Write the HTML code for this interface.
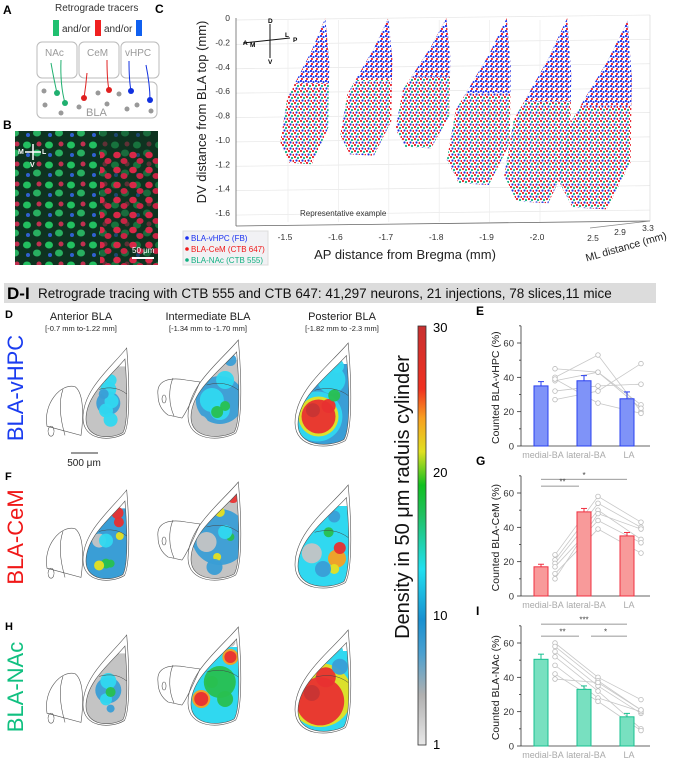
<!DOCTYPE html>
<html><head><meta charset="utf-8">
<style>
html,body{margin:0;padding:0;background:#fff;}
svg{display:block;font-family:"Liberation Sans",Arial,sans-serif;}
</style></head>
<body>
<svg id="fig" width="699" height="759" viewBox="0 0 699 759">
<defs>
  <pattern id="pMix" width="6" height="6" patternUnits="userSpaceOnUse">
    <circle cx="1" cy="1" r="1.1" fill="#e8202a"/><circle cx="4" cy="2" r="1.1" fill="#10b080"/>
    <circle cx="2.5" cy="4.5" r="1.1" fill="#2030e0"/><circle cx="5.5" cy="5" r="1.1" fill="#e8202a"/>
  </pattern>
  <pattern id="pBlue" width="5" height="5" patternUnits="userSpaceOnUse">
    <circle cx="1" cy="1" r="1.1" fill="#2030e8"/><circle cx="3.5" cy="2" r="1.1" fill="#2040f0"/>
    <circle cx="2" cy="4" r="1.1" fill="#e8202a"/>
  </pattern>
  <pattern id="pCells" width="22" height="20" patternUnits="userSpaceOnUse">
    <ellipse cx="5" cy="5" rx="4" ry="3.5" fill="#22c060"/><ellipse cx="15" cy="13" rx="4" ry="3.5" fill="#28b060"/>
    <circle cx="17" cy="4" r="2.5" fill="#c03050"/><circle cx="6" cy="15" r="2" fill="#3060d0"/>
  </pattern>
  <pattern id="pRed" width="16" height="15" patternUnits="userSpaceOnUse">
    <ellipse cx="5" cy="5" rx="3.8" ry="3.3" fill="#d82848"/><ellipse cx="12" cy="11" rx="3.5" ry="3" fill="#c82444"/>
  </pattern>
</defs>

<!-- Panel A -->
<g>
  <text x="3" y="14" font-size="12" font-weight="bold">A</text>
  <text x="55" y="11" font-size="10" fill="#333">Retrograde tracers</text>
  <rect x="53" y="20" width="6" height="16" fill="#20c070"/>
  <rect x="95" y="20" width="6" height="16" fill="#f02020"/>
  <rect x="136" y="20" width="6" height="16" fill="#1060f0"/>
  <text x="62" y="32" font-size="10" fill="#333">and/or</text>
  <text x="104" y="32" font-size="10" fill="#333">and/or</text>
  <rect x="37" y="42" width="40" height="36" rx="5" fill="none" stroke="#bbb"/>
  <rect x="79" y="42" width="40" height="36" rx="5" fill="none" stroke="#bbb"/>
  <rect x="121" y="42" width="38" height="36" rx="5" fill="none" stroke="#bbb"/>
  <text x="45" y="56" font-size="10" fill="#999">NAc</text>
  <text x="87" y="56" font-size="10" fill="#999">CeM</text>
  <text x="125" y="56" font-size="10" fill="#999">vHPC</text>
  <rect x="37" y="82" width="120" height="36" rx="5" fill="none" stroke="#bbb"/>
  <text x="86" y="116" font-size="11" fill="#999">BLA</text>
  <g fill="#999">
    <circle cx="44" cy="91" r="2.5"/><circle cx="45" cy="105" r="2.5"/><circle cx="61" cy="113" r="2.5"/>
    <circle cx="79" cy="107" r="2.5"/><circle cx="98" cy="93" r="2.5"/><circle cx="107" cy="104" r="2.5"/>
    <circle cx="119" cy="94" r="2.5"/><circle cx="127" cy="109" r="2.5"/><circle cx="137" cy="105" r="2.5"/><circle cx="151" cy="111" r="2.5"/>
  </g>
  <path d="M51 63 Q54 80 57 93 M61 60 Q60 85 65 103" stroke="#20b070" fill="none"/>
  <circle cx="57" cy="93" r="3" fill="#20b070"/><circle cx="65" cy="103" r="3" fill="#20b070"/>
  <path d="M87 73 Q86 85 84 98 M107 60 Q107 80 109 90" stroke="#e02020" fill="none"/>
  <circle cx="84" cy="98" r="3" fill="#e02020"/><circle cx="109" cy="90" r="3" fill="#e02020"/>
  <path d="M129 61 Q129 80 131 91 M146 65 Q150 85 150 100" stroke="#1030e0" fill="none"/>
  <circle cx="131" cy="91" r="3" fill="#1030e0"/><circle cx="150" cy="100" r="3" fill="#1030e0"/>
</g>

<!-- Panel B -->
<g>
  <text x="3" y="129" font-size="12" font-weight="bold">B</text>
  <rect x="15" y="131" width="143" height="134" fill="#0e3320"/>
  <rect x="15" y="131" width="143" height="134" fill="url(#pCells)"/>
  <rect x="100" y="131" width="58" height="134" fill="#0e3320" opacity="0.55"/>
  <rect x="100" y="150" width="58" height="115" fill="url(#pRed)"/>
  <path d="M33 144 V160 M25 152 H41" stroke="#fff" stroke-width="1.5"/>
  <text x="18" y="154" font-size="7" fill="#fff" font-weight="bold">M</text>
  <text x="42" y="154" font-size="7" fill="#fff" font-weight="bold">L</text>
  <text x="30" y="167" font-size="7" fill="#fff" font-weight="bold">V</text>
  <text x="132" y="253" font-size="8" fill="#fff">50 μm</text>
  <rect x="132" y="257" width="22" height="2" fill="#fff"/>
</g>

<!-- Panel C -->
<g id="panelC">
  <text x="155" y="13" font-size="12" font-weight="bold">C</text>
</g>

<!-- Header -->
<g>
  <rect x="4" y="283" width="652" height="20" fill="#dcdcdc"/>
  <text x="7" y="299" font-size="17" font-weight="bold">D-I</text>
  <text x="38" y="298" font-size="13.5" fill="#111">Retrograde tracing with CTB 555 and CTB 647: 41,297 neurons, 21 injections, 78 slices,11 mice</text>
</g>

<g id="heat">
  <text x="5" y="318" font-size="11" font-weight="bold">D</text>
  <text x="5" y="480" font-size="11" font-weight="bold">F</text>
  <text x="5" y="630" font-size="11" font-weight="bold">H</text>
  <text x="81" y="320" font-size="11" text-anchor="middle" fill="#222">Anterior BLA</text>
  <text x="81" y="331" font-size="7.5" text-anchor="middle" fill="#222">[-0.7 mm to-1.22 mm]</text>
  <text x="208" y="320" font-size="11" text-anchor="middle" fill="#222">Intermediate BLA</text>
  <text x="208" y="331" font-size="7.5" text-anchor="middle" fill="#222">[-1.34 mm to -1.70 mm]</text>
  <text x="342" y="320" font-size="11" text-anchor="middle" fill="#222">Posterior BLA</text>
  <text x="342" y="331" font-size="7.5" text-anchor="middle" fill="#222">[-1.82 mm to -2.3 mm]</text>
  <text transform="translate(23,388) rotate(-90)" font-size="22" fill="#1a3cf0" text-anchor="middle">BLA-vHPC</text>
  <text transform="translate(23,537) rotate(-90)" font-size="22" fill="#f01818" text-anchor="middle">BLA-CeM</text>
  <text transform="translate(23,687) rotate(-90)" font-size="22" fill="#10c080" text-anchor="middle">BLA-NAc</text>
  <line x1="71" y1="453" x2="98" y2="453" stroke="#333"/>
  <text x="84" y="466" font-size="10" text-anchor="middle" fill="#222">500 μm</text>
</g>

<g id="cbar">
  <defs>
    <linearGradient id="cg" x1="0" y1="1" x2="0" y2="0">
      <stop offset="0" stop-color="#e8e8e8"/><stop offset="0.12" stop-color="#b0b0b0"/>
      <stop offset="0.22" stop-color="#4aa0d0"/><stop offset="0.3" stop-color="#1890d0"/>
      <stop offset="0.42" stop-color="#20e0f0"/><stop offset="0.55" stop-color="#20c060"/>
      <stop offset="0.62" stop-color="#10c020"/><stop offset="0.7" stop-color="#e0e020"/>
      <stop offset="0.78" stop-color="#f8a020"/><stop offset="0.85" stop-color="#f03020"/>
      <stop offset="1" stop-color="#c83030"/>
    </linearGradient>
  </defs>
  <rect x="418" y="326" width="8" height="419" fill="url(#cg)" stroke="#333" stroke-width="0.8"/>
  <text x="433" y="332" font-size="13">30</text>
  <text x="433" y="477" font-size="13">20</text>
  <text x="433" y="620" font-size="13">10</text>
  <text x="433" y="749" font-size="13">1</text>
  <text transform="translate(409,497) rotate(-90)" font-size="20" text-anchor="middle" fill="#111">Density in 50 μm raduis cylinder</text>
</g>

<g id="bars"></g>
</svg>

<script>
const NS="http://www.w3.org/2000/svg";
function mk(tag,attrs,parent,txt){const e=document.createElementNS(NS,tag);for(const k in attrs)e.setAttribute(k,attrs[k]);if(txt!==undefined)e.textContent=txt;parent.appendChild(e);return e;}
const svg=document.getElementById('fig');
const defs=svg.querySelector('defs');

/* ---------- Panel C data ---------- */
const dvTicks=[0,-0.2,-0.4,-0.6,-0.8,-1.0,-1.2,-1.4,-1.6];
const apTicks=[-1.5,-1.6,-1.7,-1.8,-1.9,-2.0];
const mlTicks=[2.5,2.9,3.3];
const sliceAP=[-1.58,-1.705,-1.82,-1.94,-2.06,-2.18];
const sliceTopDV=[0,0,0,0,0,-0.02];
const sliceBottomDV=[-1.2,-1.13,-1.07,-1.37,-1.52,-1.57];
const sliceWidthAP=[0.75,0.8,0.85,1.0,1.05,1.15];

const cG=document.getElementById('panelC');
const dvY=v=>18+(-v)*121.9;
const apX=a=>285+(a+1.5)*(-504);
dvTicks.forEach(v=>{
  const l=mk('line',{x1:236,y1:dvY(v)+2,x2:650,y2:dvY(v)-3,stroke:'#e6e6e6','stroke-width':0.7},cG);
  
  const t=mk('text',{x:230,y:dvY(v)+3,'font-size':8.5,'text-anchor':'end',fill:'#333'},cG,v===0?'0':v.toFixed(1));
  
});
apTicks.forEach(a=>{
  const l=mk('line',{x1:apX(a)+3,y1:20,x2:apX(a)+3,y2:222,stroke:'#ececec','stroke-width':0.7},cG);
  
  const t=mk('text',{x:apX(a),y:240,'font-size':8.5,'text-anchor':'middle',fill:'#333'},cG,a.toFixed(1));
  
});
mk('line',{x1:236,y1:18,x2:236,y2:226,stroke:'#666','stroke-width':0.8},cG);
mk('line',{x1:236,y1:226,x2:650,y2:221,stroke:'#666','stroke-width':0.8},cG);
mk('line',{x1:650,y1:15,x2:650,y2:221,stroke:'#ddd','stroke-width':0.8},cG);
mk('line',{x1:590,y1:228,x2:650,y2:221,stroke:'#888','stroke-width':0.8},cG);
const mlPos=[[593,241],[620,235],[648,231]];
mlTicks.forEach((m,i)=>{const t=mk('text',{x:mlPos[i][0],y:mlPos[i][1],'font-size':8.5,'text-anchor':'middle',fill:'#333'},cG,m.toFixed(1));
  });
mk('text',{transform:'translate(206,112) rotate(-90)','font-size':13,'text-anchor':'middle',fill:'#222'},cG,'DV distance from BLA top (mm)');
mk('text',{x:405,y:259,'font-size':13,'text-anchor':'middle',fill:'#222'},cG,'AP distance from Bregma (mm)');
mk('text',{transform:'translate(627,250) rotate(-16)','font-size':10.5,'text-anchor':'middle',fill:'#222'},cG,'ML distance (mm)');
mk('text',{x:300,y:216,'font-size':8,fill:'#333'},cG,'Representative example');
mk('path',{d:'M270 24 V58 M243 43 L290 38',stroke:'#111','stroke-width':1,fill:'none'},cG);
[['D',268,23],['V',268,64],['A',243,45],['M',250,47],['L',285,37],['P',293,42]].forEach(o=>mk('text',{x:o[1],y:o[2],'font-size':6.5,'font-weight':'bold'},cG,o[0]));
sliceAP.forEach((a,i)=>{
  const tx=apX(a),ty=dvY(sliceTopDV[i]),by=dvY(sliceBottomDV[i]),h=by-ty,w=sliceWidthAP[i]*60;
  const pts=[[tx,ty],[tx+4,ty+0.3*h],[tx+3,ty+0.75*h],[tx-0.3*w,by],[tx-0.8*w,by-0.01*h],[tx-w,by-0.15*h],[tx-0.85*w,ty+0.55*h],[tx-0.3*w,ty+0.22*h]];
  const d='M'+pts.map(p=>p[0].toFixed(1)+' '+p[1].toFixed(1)).join(' L')+' Z';
  const cp=mk('clipPath',{id:'sc'+i},defs);mk('path',{d:d},cp);
  const g=mk('g',{'clip-path':'url(#sc'+i+')'},cG);
  
  mk('rect',{x:tx-w-5,y:ty,width:w+15,height:h+5,fill:'url(#pMix)'},g);
  mk('rect',{x:tx-w-5,y:ty,width:w+15,height:h*0.45,fill:'#fff'},g);
  mk('rect',{x:tx-w-5,y:ty,width:w+15,height:h*0.45,fill:'url(#pBlue)'},g);
});
const lg=mk('g',{},cG);
mk('rect',{x:183,y:231,width:85,height:34,fill:'#f1f1f4',stroke:'#ddd'},lg);
[['BLA-vHPC (FB)','#1a30f0',241],['BLA-CeM (CTB 647)','#f01818',252],['BLA-NAc (CTB 555)','#10b080',263]].forEach(e=>{
  mk('circle',{cx:187,cy:e[2]-3,r:1.8,fill:e[1]},lg);
  mk('text',{x:191,y:e[2],'font-size':8,fill:e[1]},lg,e[0]);
});

/* ---------- Density maps ---------- */
const colMap={g:'#c4c4c4',b:'#3a9ed6',c:'#30d8f0',n:'#28c050',y:'#e6e020',o:'#f8a020',r:'#e83030',d:'#c83434'};
const panelBox=[[83,348,46,92],[188,340,53,100],[295,343,56,105]];
const rowOffset=[0,142,287];
const baseFill=[['g','g','b'],['b','g','c'],['g','c','c']];
const heatBlobs=[
 [ [[.55,.6,12,'b'],[.55,.45,8,'c'],[.6,.35,6,'c'],[.62,.58,7,'c'],[.5,.68,7,'c'],[.6,.78,7,'c'],[.45,.5,5,'b']],
   [[.6,.6,24,'b'],[.45,.6,12,'c'],[.7,.4,9,'c'],[.6,.7,10,'c'],[.7,.66,5,'n'],[.55,.72,6,'n'],[.8,.2,6,'b'],[.2,.85,10,'g']],
   [[.5,.55,34,'b'],[.65,.35,14,'c'],[.4,.7,25,'c'],[.42,.7,20,'y'],[.42,.7,17,'r'],[.32,.64,7,'d'],[.6,.6,7,'r'],[.7,.5,6,'n'],[.75,.22,7,'c']] ],
 [ [[.55,.6,24,'b'],[.35,.55,7,'g'],[.75,.25,6,'r'],[.78,.35,5,'r'],[.8,.5,4,'y'],[.5,.8,5,'n'],[.35,.82,5,'y'],[.6,.8,4,'n'],[.5,.55,7,'c']],
   [[.6,.55,28,'b'],[.35,.6,10,'g'],[.85,.15,6,'r'],[.6,.3,5,'y'],[.8,.55,4,'n'],[.55,.75,4,'y'],[.7,.5,7,'c'],[.5,.85,8,'b']],
   [[.3,.65,10,'g'],[.75,.7,9,'o'],[.8,.6,6,'r'],[.6,.45,5,'n'],[.7,.8,5,'y'],[.5,.8,8,'b'],[.7,.3,6,'b']] ],
 [ [[.55,.6,13,'b'],[.55,.5,8,'c'],[.5,.7,6,'c'],[.6,.62,5,'n'],[.6,.8,4,'b']],
   [[.6,.55,16,'n'],[.8,.3,8,'o'],[.8,.3,6,'r'],[.25,.72,9,'o'],[.25,.72,7,'r'],[.7,.72,8,'n'],[.45,.55,6,'n'],[.8,.15,5,'g']],
   [[.45,.62,32,'y'],[.45,.68,24,'r'],[.55,.45,10,'r'],[.3,.6,8,'d'],[.8,.35,8,'b'],[.75,.2,6,'c']] ]
];
const hG=document.getElementById('heat');
function tear(x,y,w,h){return `M${x+w*0.95} ${y} C${x+w*0.6} ${y+h*0.22} ${x} ${y+h*0.45} ${x} ${y+h*0.76} C${x} ${y+h*1.01} ${x+w*0.6} ${y+h*1.02} ${x+w*0.9} ${y+h*0.93} C${x+w*1.04} ${y+h*0.8} ${x+w} ${y+h*0.3} ${x+w*0.95} ${y} Z`;}
let pid=0;
rowOffset.forEach((off,r)=>{
  panelBox.forEach((b,c)=>{
    const x=b[0],y=b[1]+off,w=b[2],h=b[3];
    const g=mk('g',{},hG);
    
    const inner=tear(x+3,y+h*0.12,w-5,h*0.86);
    const cp=mk('clipPath',{id:'hc'+pid},defs);mk('path',{d:inner},cp);
    const cg=mk('g',{'clip-path':'url(#hc'+pid+')'},g);
    mk('rect',{x:x,y:y+h*0.2,width:w,height:h*0.8,fill:colMap[baseFill[r][c]]},cg);
    heatBlobs[r][c].forEach(bl=>{
      mk('circle',{cx:x+bl[0]*w,cy:y+bl[1]*h,r:bl[2],fill:colMap[bl[3]],opacity:0.95},cg);
    });
    mk('path',{d:tear(x,y,w,h),fill:'none',stroke:'#555','stroke-width':0.6},g);
    mk('path',{d:inner,fill:'none',stroke:'#555','stroke-width':0.6},g);
    mk('path',{d:`M${x+w*0.35} ${y+h*0.45} Q${x+w*0.7} ${y+h*0.4} ${x+w*0.95} ${y+h*0.5}`,fill:'none',stroke:'#444','stroke-width':0.5},g);
    if(c===0){
      mk('path',{d:`M${x-36} ${y+h*0.85} C${x-40} ${y+h*0.6} ${x-22} ${y+h*0.38} ${x-8} ${y+h*0.42} C${x+2} ${y+h*0.5} ${x} ${y+h*0.8} ${x-2} ${y+h*0.95} Z M${x-20} ${y+h*0.45} C${x-25} ${y+h*0.6} ${x-22} ${y+h*0.8} ${x-18} ${y+h*0.95} M${x-32} ${y+h*0.85} a3 5 0 1 0 0.1 0`,fill:'none',stroke:'#555','stroke-width':0.6},g);
    }else if(c===1){
      mk('path',{d:`M${x-30} ${y+h*0.55} C${x-32} ${y+h*0.4} ${x-18} ${y+h*0.37} ${x-2} ${y+h*0.4} L${x+12} ${y+h*0.42} C${x+6} ${y+h*0.55} ${x} ${y+h*0.7} ${x-6} ${y+h*0.78} L${x-20} ${y+h*0.75} C${x-27} ${y+h*0.7} ${x-30} ${y+h*0.63} ${x-30} ${y+h*0.55} Z M${x-15} ${y+h*0.38} C${x-20} ${y+h*0.5} ${x-19} ${y+h*0.65} ${x-14} ${y+h*0.76} M${x-24} ${y+h*0.55} a2 4 0 1 0 0.1 0`,fill:'none',stroke:'#555','stroke-width':0.6},g);
    }
    pid++;
  });
});

/* ---------- Bar charts ---------- */
const categories=['medial-BA','lateral-BA','LA'];
const yTicks=[0,20,40,60];
const meansE=[35,38,27.5], errE=[2.5,3,4];
const meansG=[17,49,35], errG=[1.5,2,2];
const meansI=[50.5,33,17], errI=[3,2,2];
const miceE=[[45,43,24],[40,53,20],[38,43,22],[32,35,36],[27,32,48],[39,25,19]];
const miceG=[[24,58,43],[21,54,40],[19,50,33],[17,44,31],[13,39,25],[10,48,39]];
const miceI=[[60,40,27],[58,38,21],[55,35,19],[52,32,10],[47,28,20],[42,26,9],[39,37,21]];
const barColors=[['#7f93f8','#2a40f0'],['#f89a9a','#f03040'],['#78e0c0','#18c090']];
const charts=[
 {label:'E',y0:446,means:meansE,errs:errE,mice:miceE,title:'Counted BLA-vHPC (%)',sig:[]},
 {label:'G',y0:596,means:meansG,errs:errG,mice:miceG,title:'Counted BLA-CeM (%)',sig:[[0,1,'**',64],[0,2,'*',68]]},
 {label:'I',y0:746,means:meansI,errs:errI,mice:miceI,title:'Counted BLA-NAc (%)',sig:[[0,1,'**',64],[1,2,'*',64],[0,2,'***',71]]}
];
const bG=document.getElementById('bars');
const catX=i=>541+i*43;
charts.forEach((ch,ci)=>{
  const yv=v=>ch.y0-v*103/60;
  const g=mk('g',{},bG);
  
  mk('text',{x:476,y:ch.y0-131,'font-size':12,'font-weight':'bold'},g,ch.label);
  mk('line',{x1:521,y1:yv(0),x2:521,y2:yv(70),stroke:'#333','stroke-width':0.8},g);
  mk('line',{x1:521,y1:yv(0),x2:650,y2:yv(0),stroke:'#333','stroke-width':0.8},g);
  for(let v=0;v<=70;v+=10){mk('line',{x1:v%20===0?517:519,y1:yv(v),x2:521,y2:yv(v),stroke:'#333','stroke-width':0.8},g);}
  yTicks.forEach(v=>{const t=mk('text',{x:514,y:yv(v)+3.5,'font-size':9.5,'text-anchor':'end',fill:'#333'},g,String(v));
    });
  const yt=mk('text',{transform:`translate(499,${yv(34)}) rotate(-90)`,'font-size':10.5,'text-anchor':'middle',fill:'#222'},g,ch.title);
  
  categories.forEach((c,i)=>{const t=mk('text',{x:catX(i)+2,y:ch.y0+12,'font-size':9,'text-anchor':'middle',fill:'#aaa'},g,c);
    });
  ch.mice.forEach(m=>{
    const pts=m.map((v,i)=>[catX(i)+14,yv(v)]);
    const pl=mk('polyline',{points:pts.map(p=>p.join(',')).join(' '),fill:'none',stroke:'#c8c8c8','stroke-width':0.8},g);
    
  });
  ch.means.forEach((v,i)=>{
    const x=catX(i);
    const r=mk('rect',{x:x-7,y:yv(v),width:14,height:yv(0)-yv(v),fill:barColors[ci][0],stroke:barColors[ci][1],'stroke-width':1},g);
    
    mk('line',{x1:x,y1:yv(v),x2:x,y2:yv(v+ch.errs[i]),stroke:barColors[ci][1],'stroke-width':1},g);
    mk('line',{x1:x-3,y1:yv(v+ch.errs[i]),x2:x+3,y2:yv(v+ch.errs[i]),stroke:barColors[ci][1],'stroke-width':1},g);
  });
  ch.mice.forEach(m=>{m.forEach((v,i)=>{
    const c=mk('circle',{cx:catX(i)+14,cy:yv(v),r:2.3,fill:'#fff',stroke:'#bbb','stroke-width':0.8},g);
    
  });});
  ch.sig.forEach(s=>{
    const y=yv(s[3]);
    mk('line',{x1:catX(s[0])+(s[0]===1?7:0),y1:y,x2:catX(s[1])-(s[1]===1?5:0),y2:y,stroke:'#777','stroke-width':0.8},g);
    mk('text',{x:(catX(s[0])+catX(s[1]))/2,y:y-1.5,'font-size':8,'text-anchor':'middle',fill:'#444'},g,s[2]);
  });
});
</script>
</body></html>
